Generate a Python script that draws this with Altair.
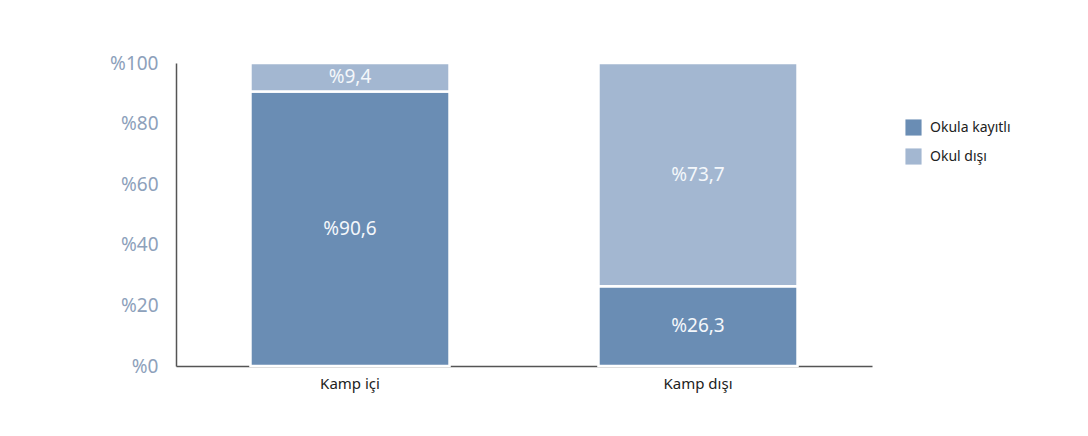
import altair as alt
import pandas as pd

categories = ["Kamp içi", "Kamp içi", "Kamp dışı", "Kamp dışı"]
series = ["Okula kayıtlı", "Okul dışı", "Okula kayıtlı", "Okul dışı"]
values = [90.6, 9.4, 26.3, 73.7]
stack_order = [0, 1, 0, 1]

series_names = ["Okula kayıtlı", "Okul dışı"]
series_colors = ["#6A8DB4", "#A3B7D1"]
cat_order = ["Kamp içi", "Kamp dışı"]

df = pd.DataFrame({"cat": categories, "series": series, "value": values, "ord": stack_order})

FONT = "Noto Sans"

base = alt.Chart(df).encode(
    x=alt.X("cat:N", sort=cat_order,
            scale=alt.Scale(paddingInner=0.428, paddingOuter=0.214),
            axis=alt.Axis(title=None, labelAngle=0, ticks=False, labelFontSize=15,
                          labelColor="#222222", labelFont=FONT, labelPadding=10,
                          domainColor="#555555", domainWidth=1.5)),
)

bars = base.mark_bar(stroke="white", strokeWidth=2.5).encode(
    y=alt.Y("value:Q", stack="zero", scale=alt.Scale(domain=[0, 100], nice=False),
            axis=alt.Axis(title=None, values=[0, 20, 40, 60, 80, 100], grid=False, ticks=False,
                          labelExpr="'%' + datum.value", labelFontSize=19, labelColor="#8DA1BB",
                          labelFont=FONT, labelPadding=18, domainColor="#555555", domainWidth=1.5)),
    color=alt.Color("series:N", sort=series_names,
                    scale=alt.Scale(domain=series_names, range=series_colors),
                    legend=alt.Legend(title=None, orient="none", legendX=729, legendY=56,
                                      symbolType="square", symbolSize=260, symbolStrokeWidth=0,
                                      labelFontSize=14, labelColor="#222222", labelFont=FONT,
                                      rowPadding=12, labelOffset=8)),
    order=alt.Order("ord:Q"),
)

labels = base.transform_stack(
    stack="value", groupby=["cat"], as_=["v0", "v1"], sort=[alt.SortField("ord")]
).transform_calculate(
    mid="(datum.v0 + datum.v1) / 2",
    txt="'%' + replace(format(datum.value, '.1f'), '.', ',')",
).mark_text(color="#F4F7FB", fontSize=19, font=FONT, baseline="middle").encode(
    y=alt.Y("mid:Q"),
    text="txt:N",
)

chart = alt.layer(bars, labels).properties(
    width=696, height=303,
    autosize=alt.AutoSizeParams(type="none"),
    padding={"left": 168, "top": 55, "right": 208, "bottom": 62},
).configure(background="white").configure_view(stroke=None, strokeWidth=0)

chart.save("out.html", embed_options={"renderer": "svg", "actions": False})
